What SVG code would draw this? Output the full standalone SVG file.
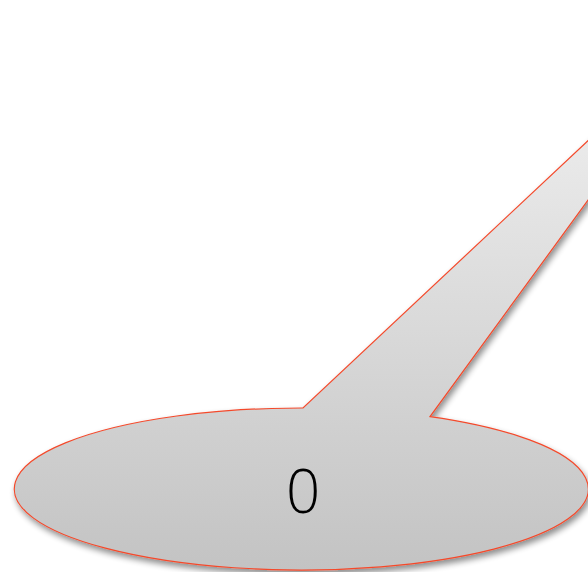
<svg xmlns="http://www.w3.org/2000/svg" width="588" height="572" viewBox="0 0 588 572">
<defs>
<linearGradient id="g" x1="0" y1="120" x2="0" y2="570" gradientUnits="userSpaceOnUse">
<stop offset="0" stop-color="#ececec"/>
<stop offset="1" stop-color="#c3c3c3"/>
</linearGradient>
<filter id="sh" x="-10%" y="-10%" width="130%" height="130%">
<feGaussianBlur in="SourceAlpha" stdDeviation="3"/>
<feOffset dx="2" dy="4" result="b"/>
<feComponentTransfer><feFuncA type="linear" slope="0.45"/></feComponentTransfer>
<feMerge><feMergeNode/><feMergeNode in="SourceGraphic"/></feMerge>
</filter>
<style>
.shape{fill:url(#g);stroke:#f44a2c;stroke-width:1.2;filter:url(#sh)}
.lbl{font-family:"Open Sans","Liberation Sans",sans-serif;font-weight:300;font-size:60px;fill:#000;text-anchor:middle}
</style>
</defs>
<g id="callout">
<path class="shape" d="M430,416.6 A287,81 0 1 1 303,408 L610,120 L610,170 Z"/>
<text class="lbl" x="303" y="513">0</text>
</g>
<g id="connectors"/>
</svg>
